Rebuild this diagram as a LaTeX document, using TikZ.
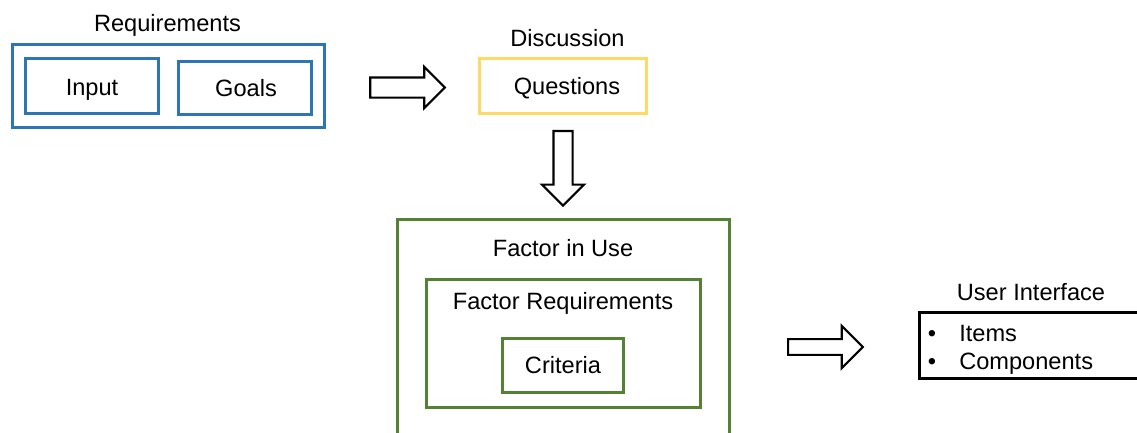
\documentclass[tikz,border=0pt]{standalone}
\usepackage{fontspec}
\setmainfont{Liberation Sans}
\usetikzlibrary{shapes.arrows}
\definecolor{reqblue}{HTML}{2E75B6}
\definecolor{discyellow}{HTML}{FFD966}
\definecolor{usegreen}{HTML}{548235}
\tikzset{
  lbl/.style={anchor=base, inner sep=0pt, font=\fontsize{17.7}{21}\selectfont},
  frame/.style={draw=#1, line width=2.25pt, rectangle, inner sep=0pt},
  blockarrow/.style={draw=black, fill=white, line width=1.6pt, single arrow,
    inner sep=0pt, minimum height=56pt, single arrow head extend=#1},
  shaft/.style={text height=#1/2, text depth=#1/2, text width=0pt},
}
\begin{document}
\begin{tikzpicture}[x=0.75pt, y=-0.75pt]
\useasboundingbox (0,0) rectangle (1137,432);
\clip (0,0) rectangle (1137,432);

% Requirements group
\node[lbl] (reqlbl) at (167.5,31.5) {Requirements};
\node[frame=reqblue, minimum width=234pt, minimum height=62.25pt] (req) at (168.5,86) {};
\node[frame=reqblue, minimum width=99.75pt, minimum height=41.25pt] (input) at (92,86) {};
\node[lbl] at (92,95) {Input};
\node[frame=reqblue, minimum width=99.75pt, minimum height=39.75pt] (goals) at (245,88) {};
\node[lbl] at (246,96) {Goals};

% Discussion
\node[lbl] (disclbl) at (567.5,46) {Discussion};
\node[frame=discyellow, minimum width=125.25pt, minimum height=41.25pt] (quest) at (563,86) {};
\node[lbl] at (567,94) {Questions};

% Factor in Use (runs past the lower edge)
\node[frame=usegreen, minimum width=249pt, minimum height=195pt] (fiu) at (563.5,349.5) {};
\node[lbl] at (563,256) {Factor in Use};
\node[frame=usegreen, minimum width=205.5pt, minimum height=96pt] (freq) at (563.5,343.5) {};
\node[lbl] at (563,309) {Factor Requirements};
\node[frame=usegreen, minimum width=90.75pt, minimum height=40.5pt] (crit) at (563,365.5) {};
\node[lbl] at (563,373) {Criteria};

% User Interface (runs past the right edge)
\node[lbl] (uilbl) at (1031,300) {User Interface};
\node[frame=black, minimum width=195pt, minimum height=49.5pt] (ui) at (1049.5,345.5) {};
\node[lbl, anchor=base west] (items) at (959,341) {Items};
\node[lbl, anchor=base west] (comps) at (959,369) {Components};
\node[lbl] at (932,341) {\textbullet};
\node[lbl] at (932,369) {\textbullet};

% Block arrows
\node[blockarrow=7.9pt, shaft=13.5pt] (a1) at (402.5,87.5) {};
\node[blockarrow=8.6pt, shaft=12.75pt, rotate=-90] (a2) at (563,163.5) {};
\node[blockarrow=9.9pt, shaft=10.2pt] (a3) at (821.5,347) {};
\end{tikzpicture}
\end{document}
